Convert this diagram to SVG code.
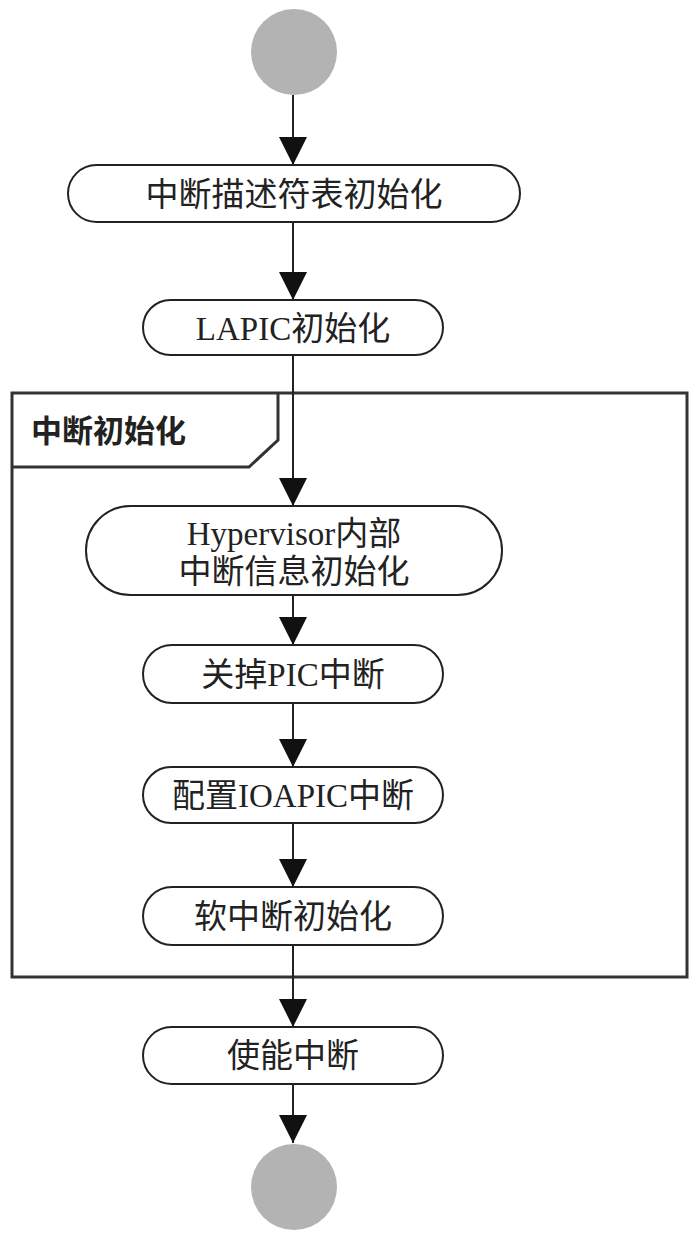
<svg xmlns="http://www.w3.org/2000/svg" width="699" height="1238" viewBox="0 0 699 1238">
<style>
.node{fill:#fff;stroke:#222;stroke-width:2}
.term{fill:#b3b3b3}
.t{font-family:"Liberation Serif","Noto Sans CJK SC",serif;font-size:33px;fill:#222;text-anchor:middle}
.frame{fill:none;stroke:#333;stroke-width:3}
.flabel{font-family:"Noto Sans CJK SC",sans-serif;font-size:31px;font-weight:bold;fill:#222}
.edge{stroke:#222;stroke-width:2;fill:none;marker-end:url(#ah)}
</style>
<defs>
<marker id="ah" markerWidth="28" markerHeight="28" viewBox="0 0 28 28" refX="28" refY="14" orient="auto" markerUnits="userSpaceOnUse">
<path d="M0,0 L28,14 L0,28 Z" fill="#111"/>
</marker>
</defs>
<rect width="699" height="1238" fill="#fff"/>
<g id="frame">
<rect class="frame" x="12" y="393" width="675" height="584"/>
<path class="frame" d="M12,467 L249,467 L278,440 L278,393"/>
<text class="flabel" x="31" y="442">中断初始化</text>
</g>
<g id="edges">
<path class="edge" d="M293,95 L293,165"/>
<path class="edge" d="M293,222 L293,300"/>
<path class="edge" d="M293,355 L293,506"/>
<path class="edge" d="M293,595 L293,645"/>
<path class="edge" d="M293,703 L293,767"/>
<path class="edge" d="M293,823 L293,887"/>
<path class="edge" d="M293,945 L293,1027"/>
<path class="edge" d="M293,1084 L293,1143"/>
</g>
<g id="start"><circle class="term" cx="294" cy="52" r="43"/></g>
<g id="n1"><rect class="node" x="68" y="165" width="452" height="57" rx="28.5"/><text class="t" x="294" y="206">中断描述符表初始化</text></g>
<g id="n2"><rect class="node" x="143" y="300" width="300" height="55" rx="27.5"/><text class="t" x="293" y="340">LAPIC初始化</text></g>
<g id="n3"><rect class="node" x="86" y="506" width="416" height="89" rx="44.5"/><text class="t" x="294" y="545">Hypervisor内部</text><text class="t" x="294" y="583">中断信息初始化</text></g>
<g id="n4"><rect class="node" x="143" y="645" width="300" height="58" rx="29"/><text class="t" x="293" y="686">关掉PIC中断</text></g>
<g id="n5"><rect class="node" x="143" y="767" width="300" height="56" rx="28"/><text class="t" x="293" y="807">配置IOAPIC中断</text></g>
<g id="n6"><rect class="node" x="143" y="887" width="300" height="58" rx="29"/><text class="t" x="293" y="928">软中断初始化</text></g>
<g id="n7"><rect class="node" x="143" y="1027" width="300" height="57" rx="28.5"/><text class="t" x="293" y="1067">使能中断</text></g>
<g id="end"><circle class="term" cx="294" cy="1187" r="43"/></g>
</svg>
